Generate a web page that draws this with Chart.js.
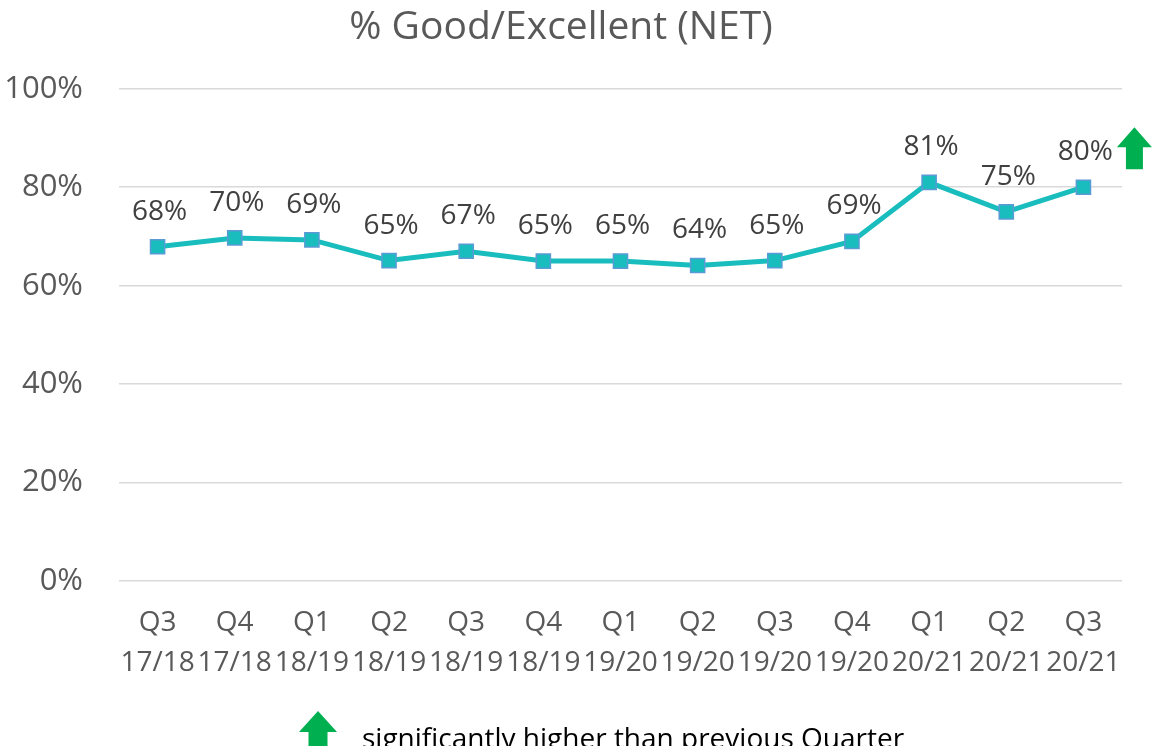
<!DOCTYPE html>
<html>
<head>
<meta charset="utf-8">
<script src="https://cdn.jsdelivr.net/npm/chart.js@4.4.1/dist/chart.umd.min.js"></script>
<style>
  html, body { margin: 0; padding: 0; background: #fff; overflow: hidden; }
  .wrap { position: relative; width: 1152px; height: 746px; }
</style>
</head>
<body>
<div class="wrap">
  <canvas id="chart" width="1152" height="746"></canvas>
</div>
<script>
const quarters = [
  ['Q3', '17/18'], ['Q4', '17/18'], ['Q1', '18/19'], ['Q2', '18/19'], ['Q3', '18/19'],
  ['Q4', '18/19'], ['Q1', '19/20'], ['Q2', '19/20'], ['Q3', '19/20'], ['Q4', '19/20'],
  ['Q1', '20/21'], ['Q2', '20/21'], ['Q3', '20/21']
];
const netGood = [67.9, 69.7, 69.3, 65.1, 67, 65, 65, 64.1, 65.1, 69, 81, 75, 80];
const pointLabels = ['68%', '70%', '69%', '65%', '67%', '65%', '65%', '64%', '65%', '69%', '81%', '75%', '80%'];
const sigHigher = [false, false, false, false, false, false, false, false, false, false, false, false, true];

const FONT = "'Open Sans', 'Noto Sans', sans-serif";
const GREEN = '#00B050';

function drawArrow(ctx, cx, top, headW, headH, shaftW, bottom) {
  ctx.beginPath();
  ctx.moveTo(cx, top);
  ctx.lineTo(cx + headW / 2, top + headH);
  ctx.lineTo(cx + shaftW / 2, top + headH);
  ctx.lineTo(cx + shaftW / 2, bottom);
  ctx.lineTo(cx - shaftW / 2, bottom);
  ctx.lineTo(cx - shaftW / 2, top + headH);
  ctx.lineTo(cx - headW / 2, top + headH);
  ctx.closePath();
  ctx.fill();
}

// value labels, significance arrows and the note at the bottom
const labelPlugin = {
  id: 'labels',
  afterDatasetsDraw(chart) {
    const ctx = chart.ctx;
    const meta = chart.getDatasetMeta(0);
    ctx.save();
    ctx.font = '28px ' + FONT;
    ctx.fillStyle = '#404040';
    ctx.textAlign = 'center';
    ctx.textBaseline = 'middle';
    meta.data.forEach((pt, i) => {
      ctx.fillText(pointLabels[i], pt.x + 2, pt.y - 35);
      if (sigHigher[i]) {
        ctx.fillStyle = GREEN;
        drawArrow(ctx, pt.x + 51, pt.y - 60, 35, 20, 17, pt.y - 18);
        ctx.fillStyle = '#404040';
      }
    });

    // note
    ctx.fillStyle = GREEN;
    drawArrow(ctx, 318, 711, 38, 21, 19, 760);
    ctx.fillStyle = '#000';
    ctx.font = '28px ' + FONT;
    ctx.textAlign = 'left';
    ctx.textBaseline = 'alphabetic';
    ctx.fillText('significantly higher than previous Quarter', 362, 748);
    ctx.restore();
  }
};

new Chart(document.getElementById('chart'), {
  type: 'line',
  data: {
    labels: quarters,
    datasets: [{
      data: netGood,
      borderColor: '#1ABDBD',
      borderWidth: 5,
      pointStyle: 'rect',
      pointRadius: 10,
      pointBackgroundColor: '#1ABDBD',
      pointBorderColor: '#5B9BD5',
      pointBorderWidth: 1.5,
      tension: 0,
      fill: false
    }]
  },
  options: {
    responsive: false,
    animation: false,
    layout: { padding: { right: 30 } },
    plugins: {
      legend: { display: false },
      tooltip: { enabled: false },
      title: {
        display: true,
        text: '% Good/Excellent (NET)',
        color: '#595959',
        font: { family: FONT, size: 39, weight: 'normal' },
        padding: { top: 4, bottom: 38 }
      }
    },
    scales: {
      x: {
        offset: true,
        grid: { display: false, drawTicks: false },
        border: { display: false },
        ticks: {
          color: '#595959',
          font: { family: FONT, size: 28, lineHeight: 1.43 },
          padding: 22,
          maxRotation: 0,
          autoSkip: false
        },
        afterFit(scale) { scale.height = 165; }
      },
      y: {
        min: 0,
        max: 100,
        grid: { color: '#D9D9D9', lineWidth: 1.5, drawTicks: false },
        border: { display: false },
        ticks: {
          stepSize: 20,
          color: '#595959',
          font: { family: FONT, size: 31 },
          padding: 36,
          callback: v => v + '%'
        },
        afterFit(scale) { scale.width = 119; }
      }
    }
  },
  plugins: [labelPlugin]
});
</script>
</body>
</html>
